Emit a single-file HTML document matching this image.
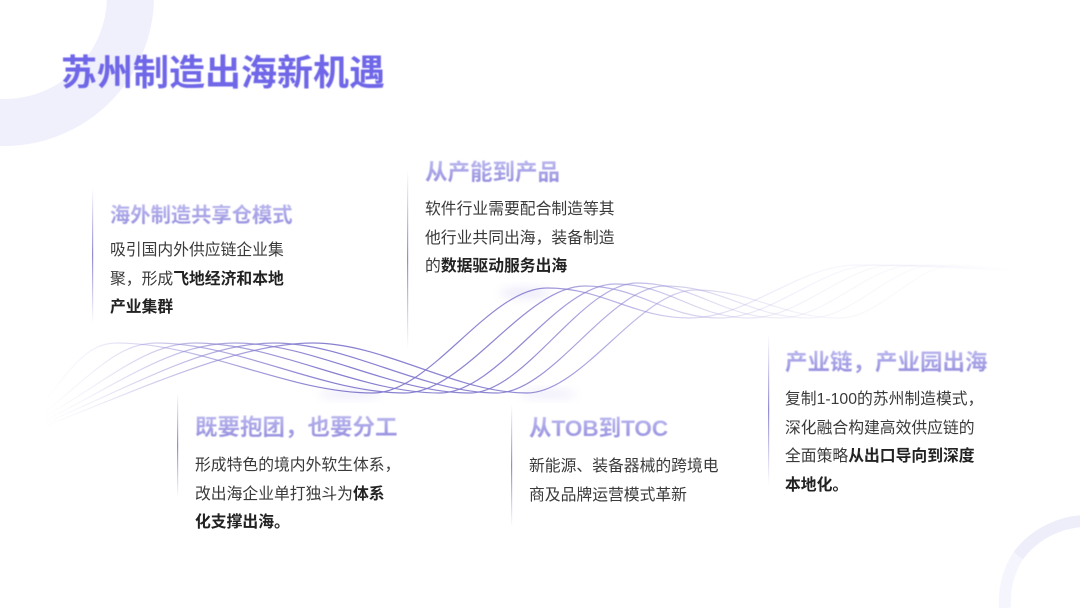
<!DOCTYPE html>
<html lang="zh"><head><meta charset="utf-8"><style>
html,body{margin:0;padding:0;background:#fff}
#p{position:relative;width:1080px;height:608px;overflow:hidden;background:#fff;font-family:"Liberation Sans","Noto Sans CJK SC",sans-serif}
svg{position:absolute;left:0;top:0}
.t{position:absolute;left:61px;top:48px;font-size:36px;line-height:50px;font-weight:700;color:#6f66e8;white-space:nowrap;filter:blur(.4px)}
.h{position:absolute;font-size:22.5px;line-height:28px;font-weight:700;white-space:nowrap;background:linear-gradient(180deg,#bdbaef,#9089dc);-webkit-background-clip:text;background-clip:text;color:transparent;filter:blur(.4px)}
.b{position:absolute;font-size:15.8px;line-height:28.5px;color:#3a3a3a;white-space:nowrap;filter:blur(.3px)}
.b b{color:#222;font-weight:700}
</style></head><body><div id="p">
<svg width="1080" height="608" viewBox="0 0 1080 608">
<defs>
<linearGradient id="w" gradientUnits="userSpaceOnUse" x1="45" y1="0" x2="1010" y2="0">
<stop offset="0" stop-color="#8f88d4" stop-opacity="0"/>
<stop offset=".05" stop-color="#8f88d4" stop-opacity=".12"/>
<stop offset=".1" stop-color="#8f88d4" stop-opacity=".35"/>
<stop offset=".17" stop-color="#8a82d0" stop-opacity=".65"/>
<stop offset=".3" stop-color="#7f76cc" stop-opacity=".95"/>
<stop offset=".5" stop-color="#7f76cc" stop-opacity=".85"/>
<stop offset=".62" stop-color="#9088d4" stop-opacity=".55"/>
<stop offset=".72" stop-color="#a8a2dc" stop-opacity=".28"/>
<stop offset=".8" stop-color="#b8b4e4" stop-opacity=".14"/>
<stop offset=".9" stop-color="#c4c0ea" stop-opacity=".08"/>
<stop offset="1" stop-color="#c4c0ea" stop-opacity="0"/>
</linearGradient>
<linearGradient id="v" x1="0" y1="0" x2="0" y2="1">
<stop offset="0" stop-color="#7f76cc" stop-opacity="0"/>
<stop offset=".5" stop-color="#7f76cc" stop-opacity=".85"/>
<stop offset="1" stop-color="#7f76cc" stop-opacity="0"/>
</linearGradient>
<filter id="g" x="-50%" y="-100%" width="200%" height="300%"><feGaussianBlur stdDeviation="5"/></filter>
<filter id="s" filterUnits="userSpaceOnUse" x="0" y="250" width="1080" height="200"><feGaussianBlur stdDeviation=".35"/></filter>
</defs>
<circle cx="4" cy="-4" r="126.5" fill="none" stroke="#f0f0fc" stroke-width="47"/>
<path d="M1018 556A87 87 0 0 1 1092 521" fill="none" stroke="#eeeefb" stroke-width="12"/>
<path d="M1005 608A87 87 0 0 1 1018 556" fill="none" stroke="#f5f5fd" stroke-width="12"/>
<ellipse cx="350" cy="394" rx="32" ry="3" fill="#c9c5f0" opacity=".45" filter="url(#g)"/>
<ellipse cx="525" cy="293" rx="25" ry="4" fill="#c9c5f0" opacity=".45" filter="url(#g)"/>
<ellipse cx="548" cy="394" rx="28" ry="3" fill="#c9c5f0" opacity=".45" filter="url(#g)"/>
<g fill="none" stroke="url(#w)" stroke-width="1.2" filter="url(#s)">
<path d="M30 420C70 370 85 343 117 343C202 343 288 393 373 393C431 393 489 288 547 288C604 288 633 318 690 318C748 318 799 265 857 265C900 265 950 268 1000 270"/>
<path d="M32 422C90 378 115 343 156 343C238 343 323 393 405 393C465 393 525 286 585 286C639 286 666 318 720 318C774 318 821 265 875 265C920 265 960 268 1003 270"/>
<path d="M34 423C105 383 145 343 195 343C276 343 359 393 440 393C498 393 557 284 615 284C669 284 696 318 750 318C801 318 844 265 895 265C930 265 970 268 1006 270"/>
<path d="M36 425C118 385 170 343 235 343C313 343 392 393 470 393C525 393 582 283 637 283C694 283 723 318 780 318C827 318 868 265 915 265C945 265 980 268 1008 270"/>
<path d="M38 426C135 385 205 343 274 343C348 343 423 393 497 393C552 393 610 286 665 286C723 286 752 318 810 318C854 318 891 265 935 265C960 265 990 268 1010 270"/>
<path d="M40 428C150 385 240 343 313 343C384 343 456 393 527 393C582 393 640 290 695 290C753 290 782 318 840 318C880 318 915 265 955 265C975 265 995 268 1012 270"/>
</g>
<rect x="92" y="188" width="1.2" height="135" fill="url(#v)"/>
<rect x="407" y="170" width="1.2" height="178" fill="url(#v)"/>
<rect x="177" y="393" width="1.2" height="105" fill="url(#v)"/>
<rect x="511" y="405" width="1.2" height="122" fill="url(#v)"/>
<rect x="768" y="335" width="1.2" height="150" fill="url(#v)"/>
</svg>
<div class="t">苏州制造出海新机遇</div>
<div class="h" style="left:110px;top:202px;font-size:20.3px">海外制造共享仓模式</div>
<div class="b" style="left:110px;top:237px">吸引国内外供应链企业集<br>聚，形成<b>飞地经济和本地</b><br><b>产业集群</b></div>
<div class="h" style="left:425px;top:159px">从产能到产品</div>
<div class="b" style="left:425px;top:196px">软件行业需要配合制造等其<br>他行业共同出海，装备制造<br>的<b>数据驱动服务出海</b></div>
<div class="h" style="left:195px;top:414px">既要抱团，也要分工</div>
<div class="b" style="left:195px;top:452px">形成特色的境内外软生体系，<br>改出海企业单打独斗为<b>体系</b><br><b>化支撑出海。</b></div>
<div class="h" style="left:529px;top:415px">从TOB到TOC</div>
<div class="b" style="left:529px;top:453px">新能源、装备器械的跨境电<br>商及品牌运营模式革新</div>
<div class="h" style="left:785px;top:349px">产业链，产业园出海</div>
<div class="b" style="left:785px;top:386px">复制1-100的苏州制造模式，<br>深化融合构建高效供应链的<br>全面策略<b>从出口导向到深度</b><br><b>本地化。</b></div>
</div></body></html>
